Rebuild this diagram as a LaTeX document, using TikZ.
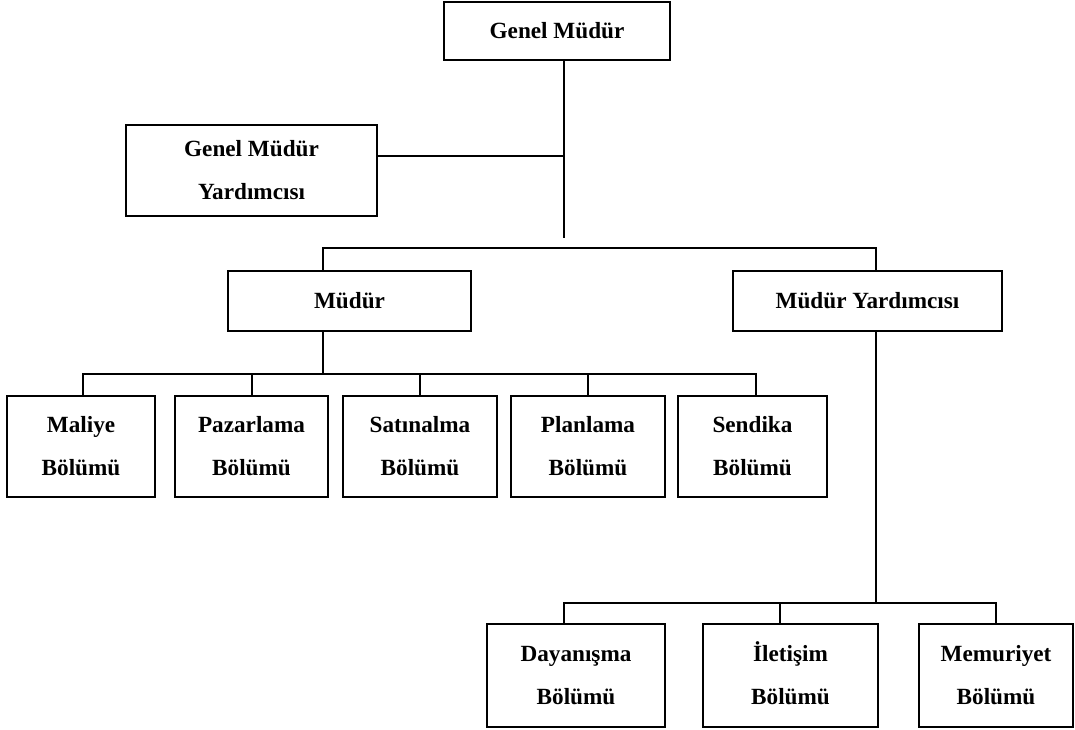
\documentclass[tikz,border=0pt]{standalone}
\usepackage{fontspec}
\setmainfont{Liberation Serif}
\usepackage{tikz}

\begin{document}
\begin{tikzpicture}[x=0.5pt,y=-0.5pt,font=\fontsize{11.6}{21.5}\selectfont\bfseries,
    box/.style={rectangle,draw,line width=1pt,align=center,inner sep=0pt},
    dept/.style={box,minimum height=50.5pt},
    link/.style={line width=0.75pt}]
        \useasboundingbox (0,0) rectangle (1075,729);
        \node (GM) at (557,31) [box,minimum width=113pt,minimum height=29pt] {Genel Müdür};
        \node (GMY) at (251.5,170.5) [box,minimum width=125.5pt,minimum height=45.5pt] {Genel Müdür\\Yardımcısı};
        \node (M) at (349.5,301) [box,minimum width=121.5pt,minimum height=30pt] {Müdür};
        \node (MY) at (867.5,301) [box,minimum width=134.5pt,minimum height=30pt] {Müdür Yardımcısı};
        \node (MAL) at (81,446.5) [dept,minimum width=74pt] {Maliye\\Bölümü};
        \node (PAZ) at (251.5,446.5) [dept,minimum width=76.5pt] {Pazarlama\\Bölümü};
        \node (SAT) at (420,446.5) [dept,minimum width=77pt] {Satınalma\\Bölümü};
        \node (PLA) at (588,446.5) [dept,minimum width=77pt] {Planlama\\Bölümü};
        \node (SEN) at (752.5,446.5) [dept,minimum width=74.5pt] {Sendika\\Bölümü};
        \node (DAY) at (576,675.5) [dept,minimum width=89pt,minimum height=51.5pt] {Dayanışma\\Bölümü};
        \node (ILE) at (790.5,675.5) [dept,minimum width=87.5pt,minimum height=51.5pt] {\smash{İ}letişim\\Bölümü};
        \node (MEM) at (996,675.5) [dept,minimum width=77pt,minimum height=51.5pt] {Memuriyet\\Bölümü};
        \coordinate (T) at (564,238);
        \coordinate (J) at (564,156);
        \coordinate (BA) at (323,248);
        \coordinate (BB) at (876,248);
        \coordinate (MB) at (323,374);
        \coordinate (C1) at (83,374);
        \coordinate (C2) at (252,374);
        \coordinate (C3) at (420,374);
        \coordinate (C4) at (588,374);
        \coordinate (C5) at (756,374);
        \coordinate (YB) at (876,603);
        \coordinate (D1) at (564,603);
        \coordinate (D2) at (780,603);
        \coordinate (D3) at (996,603);
        \draw [link] (T |- GM.south) -- (T);
        \draw [link] (GMY.east |- J) -- (J);
        \draw [link] (BA |- M.north) -- (BA) -- (BB) -- (BB |- MY.north);
        \draw [link] (MB |- M.south) -- (MB);
        \draw [link] (C1 |- MAL.north) -- (C1) -- (C5) -- (C5 |- SEN.north);
        \draw [link] (C2) -- (C2 |- PAZ.north);
        \draw [link] (C3) -- (C3 |- SAT.north);
        \draw [link] (C4) -- (C4 |- PLA.north);
        \draw [link] (YB |- MY.south) -- (YB);
        \draw [link] (D1 |- DAY.north) -- (D1) -- (D3) -- (D3 |- MEM.north);
        \draw [link] (D2) -- (D2 |- ILE.north);
      \end{tikzpicture}
\end{document}
